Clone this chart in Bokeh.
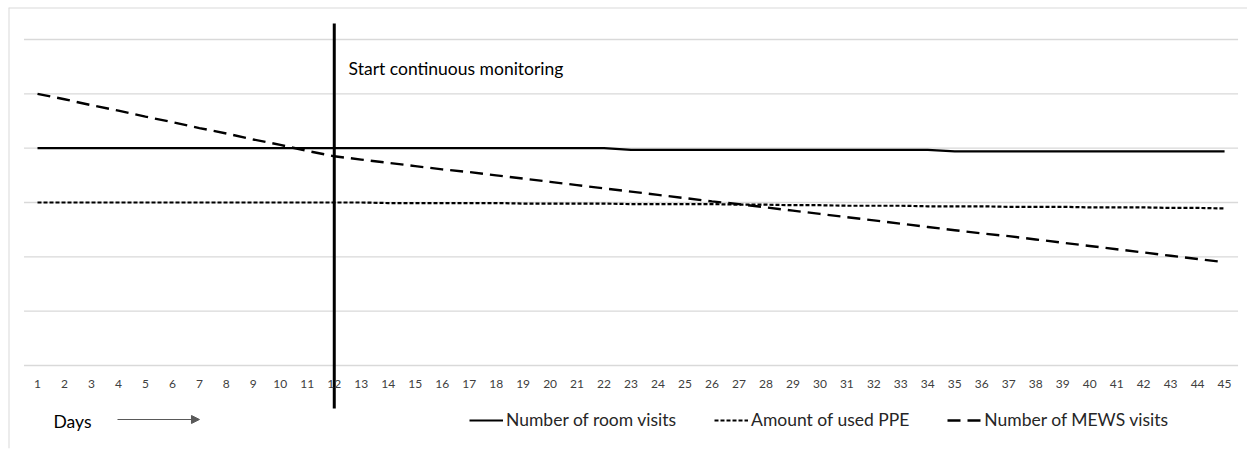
from bokeh.plotting import figure
from bokeh.models import (Range1d, FixedTicker, Label, Arrow, NormalHead, Legend,
                          LegendItem, Span)
from bokeh.embed import file_html
from bokeh.resources import INLINE

days = list(range(1, 46))
room_visits = [4.00] * 22 + [3.97] * 12 + [3.94] * 11
used_ppe = [3.00, 3.00, 3.00, 3.00, 3.00, 3.00, 3.00, 3.00, 3.00, 3.00,
            3.00, 3.00, 3.00, 2.99, 2.99, 2.99, 2.99, 2.99, 2.98, 2.98,
            2.98, 2.98, 2.97, 2.97, 2.97, 2.97, 2.96, 2.96, 2.95, 2.95,
            2.94, 2.94, 2.94, 2.93, 2.93, 2.93, 2.92, 2.92, 2.92, 2.91,
            2.91, 2.91, 2.90, 2.90, 2.89]
mews_visits = [5.00, 4.90, 4.79, 4.69, 4.58, 4.48, 4.37, 4.27, 4.16, 4.06,
               3.95, 3.85, 3.79, 3.73, 3.67, 3.61, 3.56, 3.50, 3.44, 3.38,
               3.32, 3.26, 3.20, 3.14, 3.08, 3.02, 2.97, 2.91, 2.85, 2.79,
               2.73, 2.67, 2.61, 2.55, 2.49, 2.43, 2.38, 2.32, 2.26, 2.20,
               2.14, 2.08, 2.02, 1.96, 1.90]
grid_values = [0, 1, 2, 3, 4, 5, 6]
start_day = 12
series_names = ["Number of room visits", "Amount of used PPE", "Number of MEWS visits"]

FONT = "Lato"
X0, X1 = -0.075, 45.85
Y0, Y1 = -1.528, 6.589

p = figure(width=1247, height=453, output_backend="svg", toolbar_location=None,
           x_range=Range1d(X0, X1), y_range=Range1d(Y0, Y1),
           min_border_left=8, min_border_right=0, min_border_top=7,
           min_border_bottom=5)
p.outline_line_color = None
p.background_fill_color = "white"
p.border_fill_color = "white"

p.yaxis.visible = False
p.xgrid.visible = False
p.ygrid.visible = False

# horizontal gridlines across the category area
p.segment(x0=[0.5] * len(grid_values), x1=[45.5] * len(grid_values),
          y0=grid_values, y1=grid_values, line_color="#d9d9d9", line_width=1.3)

ax = p.xaxis[0]
ax.ticker = FixedTicker(ticks=days)
ax.axis_line_color = None
ax.major_tick_line_color = None
ax.minor_tick_line_color = None
ax.major_label_standoff = -75
ax.major_label_text_font = FONT
ax.major_label_text_font_size = "12px"
ax.major_label_text_color = "#404040"

r1 = p.line(days, room_visits, line_color="black", line_width=2.2)
r2 = p.line(days, used_ppe, line_color="black", line_width=2.2, line_dash="4 2")
r3 = p.line(days, mews_visits, line_color="black", line_width=2.4, line_dash="13 7")

# vertical marker for start of continuous monitoring
p.segment(x0=[start_day], y0=[-0.79], x1=[start_day], y1=[6.295],
          line_color="black", line_width=3)
p.add_layout(Label(x=12.53, y=5.466, text="Start continuous monitoring",
                   text_font=FONT, text_font_size="17.5px", text_color="black",
                   text_baseline="middle"))

# Days arrow
p.add_layout(Label(x=1.593, y=-1.031, text="Days", text_font=FONT,
                   text_font_size="17.5px", text_color="black",
                   text_baseline="middle"))
p.add_layout(Arrow(end=NormalHead(size=8, fill_color="#595959", line_color="#595959"),
                   x_start=3.965, y_start=-0.994, x_end=7.004, y_end=-0.994,
                   line_color="#595959", line_width=1.2))

legend = Legend(items=[LegendItem(label=series_names[0], renderers=[r1]),
                       LegendItem(label=series_names[1], renderers=[r2]),
                       LegendItem(label=series_names[2], renderers=[r3])],
                orientation="horizontal", location=(461, 18),
                glyph_width=34, glyph_height=20, label_standoff=3, spacing=38,
                padding=0, margin=0, border_line_color=None,
                background_fill_alpha=0, label_text_font=FONT,
                label_text_font_size="17.5px", label_text_color="#262626")
p.add_layout(legend, "center")

# outer chart border (top and left)
p.add_layout(Span(location=X0, dimension="height", line_color="#d9d9d9", line_width=2))
p.add_layout(Span(location=Y1, dimension="width", line_color="#d9d9d9", line_width=2))

open("out.html", "w").write(file_html(p, INLINE))
